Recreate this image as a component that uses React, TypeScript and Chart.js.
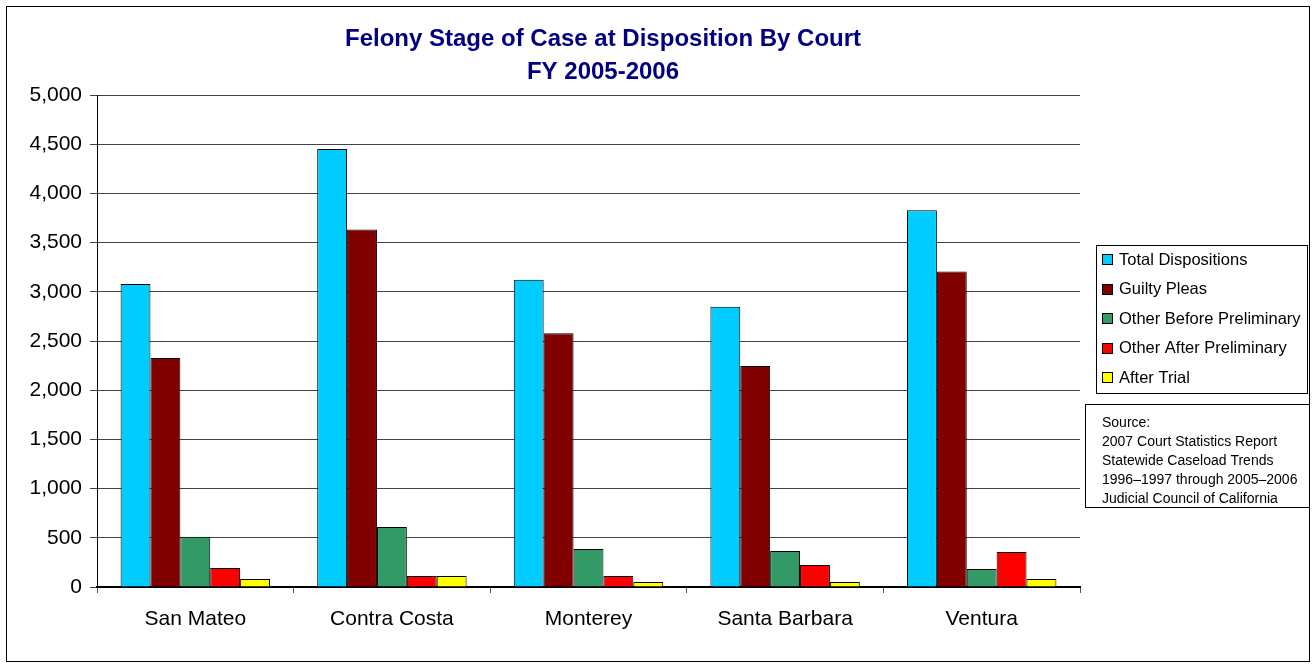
import React, { useEffect, useRef } from "react";
import { Chart, registerables } from "chart.js";

Chart.register(...registerables);

const categories = ["San Mateo", "Contra Costa", "Monterey", "Santa Barbara", "Ventura"];
const seriesNames = [
  "Total Dispositions",
  "Guilty Pleas",
  "Other Before Preliminary",
  "Other After Preliminary",
  "After Trial",
];
const totalDispositions = [3080, 4450, 3122, 2848, 3830];
const guiltyPleas = [2326, 3632, 2580, 2245, 3206];
const otherBeforePreliminary = [510, 610, 386, 366, 183];
const otherAfterPreliminary = [193, 112, 112, 224, 356];
const afterTrial = [81, 112, 51, 51, 81];
const seriesColors = ["#00CCFF", "#800000", "#339966", "#FF0000", "#FFFF00"];
const titleLines = ["Felony Stage of Case at Disposition By Court", "FY 2005-2006"];
const sourceLines = [
  "Source:",
  "2007 Court Statistics Report",
  "Statewide Caseload Trends",
  "1996\u20131997 through 2005\u20132006",
  "Judicial Council of California",
];
const yTicks = [0, 500, 1000, 1500, 2000, 2500, 3000, 3500, 4000, 4500, 5000];

const FONT = '"Liberation Sans", Arial, sans-serif';

const decorPlugin = {
  id: "decor",
  beforeDraw(chart: any) {
    const ctx = chart.ctx;
    ctx.save();
    ctx.fillStyle = "#ffffff";
    ctx.fillRect(0, 0, chart.width, chart.height);
    ctx.restore();
  },
  afterDraw(chart: any) {
    const ctx = chart.ctx;
    ctx.save();
    // outer border
    ctx.strokeStyle = "#000";
    ctx.lineWidth = 1;
    ctx.strokeRect(6.5, 6.5, 1303, 655);

    // title
    ctx.fillStyle = "#000080";
    ctx.font = `bold 24px ${FONT}`;
    ctx.textAlign = "center";
    ctx.textBaseline = "middle";
    ctx.fillText(titleLines[0], 603, 39);
    ctx.fillText(titleLines[1], 603, 72);

    // legend
    ctx.strokeStyle = "#000";
    ctx.lineWidth = 1;
    ctx.strokeRect(1096.5, 245.5, 211, 148);
    ctx.font = `16.5px ${FONT}`;
    ctx.textAlign = "left";
    ctx.fillStyle = "#000";
    chart.data.datasets.forEach((ds: any, i: number) => {
      const cy = 259 + i * 29.6;
      ctx.fillStyle = ds.backgroundColor;
      ctx.fillRect(1102, Math.round(cy - 5), 11, 11);
      ctx.strokeStyle = "#000";
      ctx.strokeRect(1102.5, Math.round(cy - 5) + 0.5, 10, 10);
      ctx.fillStyle = "#000";
      ctx.fillText(ds.label, 1119, cy + 1);
    });

    // source box
    ctx.strokeRect(1085.5, 404.5, 224, 103);
    ctx.font = `14px ${FONT}`;
    sourceLines.forEach((t, i) => {
      ctx.fillText(t, 1102, 423 + i * 19);
    });
    ctx.restore();
  },
};

export default function App() {
  const ref = useRef<HTMLCanvasElement | null>(null);
  useEffect(() => {
    if (!ref.current) return;
    const values = [
      totalDispositions,
      guiltyPleas,
      otherBeforePreliminary,
      otherAfterPreliminary,
      afterTrial,
    ];
    const chart = new Chart(ref.current, {
      type: "bar",
      data: {
        labels: categories,
        datasets: values.map((v, i) => ({
          label: seriesNames[i],
          data: v,
          backgroundColor: seriesColors[i],
          borderColor: "#000",
          borderWidth: 1,
          barPercentage: 1,
          categoryPercentage: 0.76,
        })),
      },
      options: {
        responsive: false,
        animation: false,
        devicePixelRatio: 1,
        layout: { padding: { left: 20, right: 234, top: 95, bottom: 0 } },
        plugins: {
          legend: { display: false },
          title: { display: false },
          tooltip: { enabled: false },
        },
        scales: {
          x: {
            grid: {
              display: true,
              drawOnChartArea: false,
              drawTicks: true,
              tickLength: 6,
              color: "#555",
              offset: true,
            },
            border: { color: "#000", width: 2 },
            ticks: {
              color: "#000",
              font: { size: 21, family: FONT },
              padding: 14,
            },
            afterFit: (s: any) => {
              s.height = 80;
            },
          },
          y: {
            min: 0,
            max: 5000,
            afterBuildTicks: (s: any) => {
              s.ticks = yTicks.map((v) => ({ value: v }));
            },
            ticks: {
              color: "#000",
              font: { size: 21, family: FONT },
              padding: 8,
              callback: (v: any) => Number(v).toLocaleString("en-US"),
            },
            grid: { color: "#444", tickLength: 7, lineWidth: 1 },
            border: { color: "#000", width: 1 },
            afterFit: (s: any) => {
              s.width = 77;
            },
          },
        },
      },
      plugins: [decorPlugin],
    });
    return () => chart.destroy();
  }, []);
  return (
    <div style={{ position: "fixed", left: 0, top: 0, width: 1314, height: 667, background: "#fff" }}>
      <canvas ref={ref} width={1314} height={667} style={{ display: "block" }} />
    </div>
  );
}
